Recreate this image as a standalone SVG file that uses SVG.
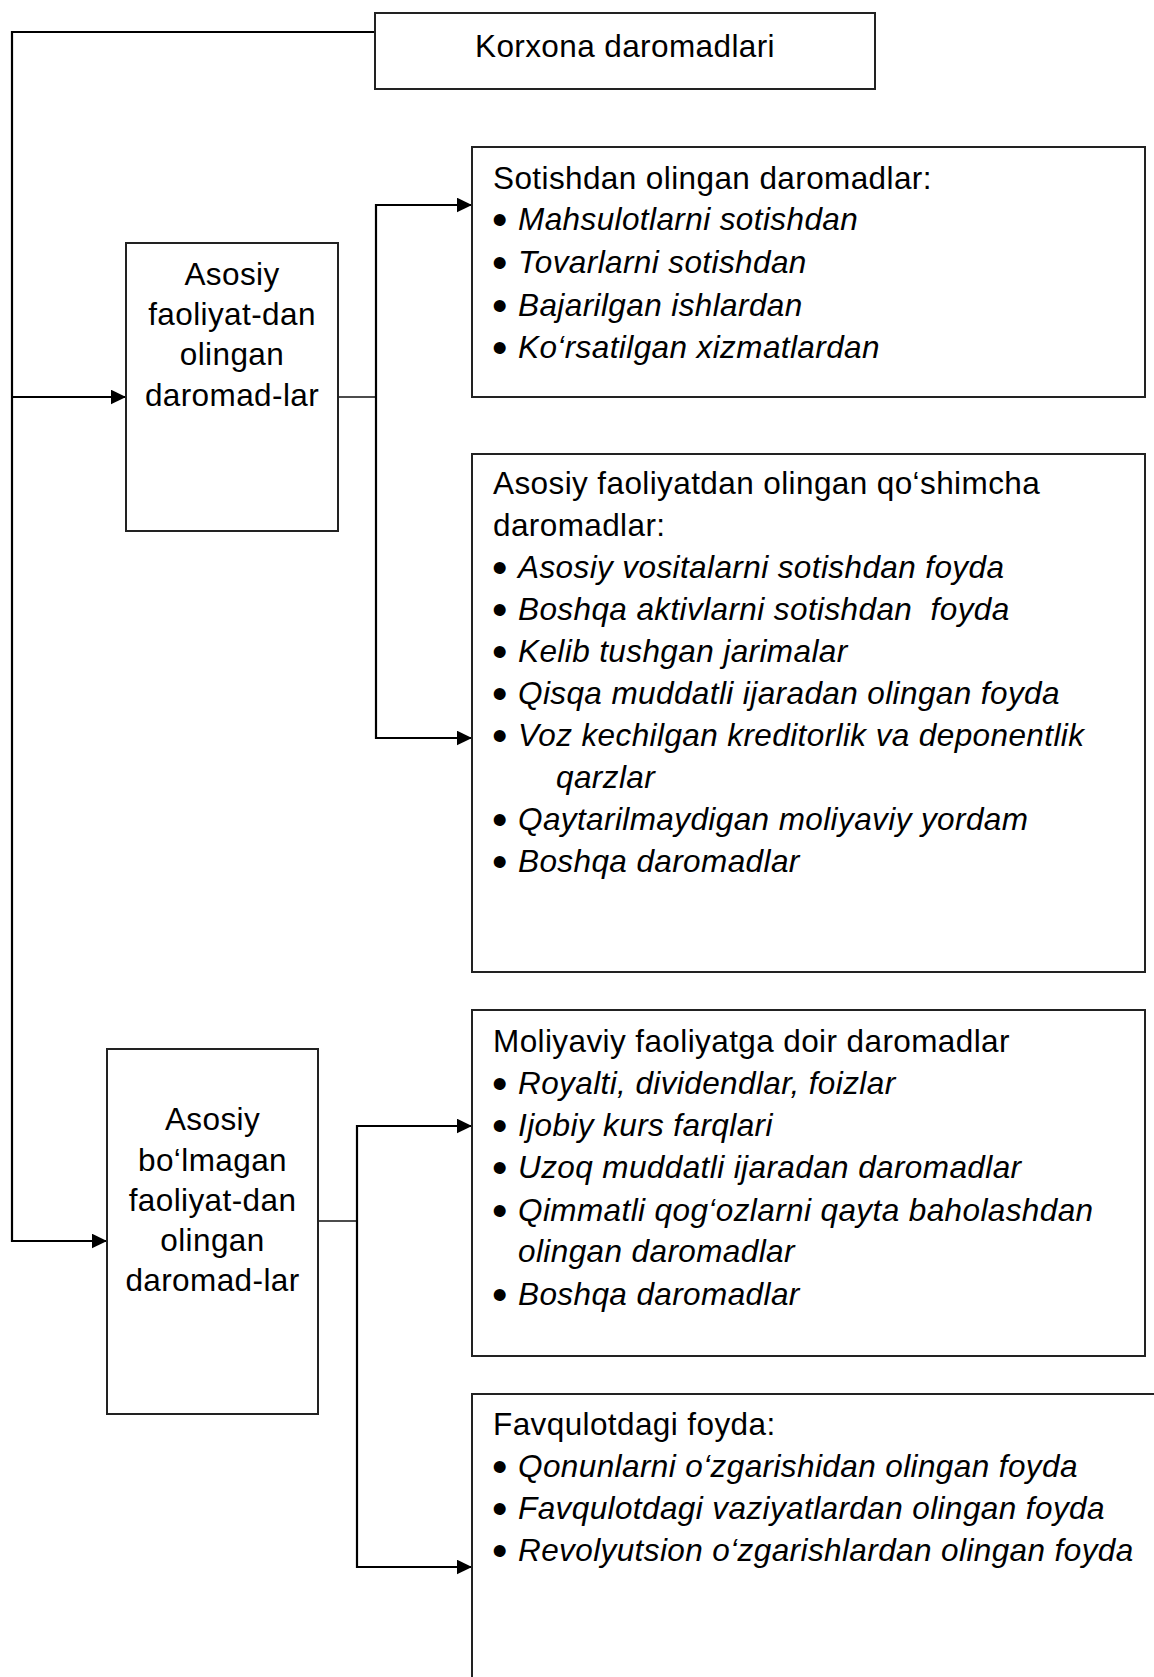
<svg xmlns="http://www.w3.org/2000/svg" width="1154" height="1677" viewBox="0 0 1154 1677">
  <style>
    .box { fill: #fff; stroke: #222; stroke-width: 2; }
    .ln { fill: none; stroke: #000; stroke-width: 2.2; }
    .stub { fill: none; stroke: #111; stroke-width: 1.5; }
    text { font-family: "Liberation Sans", Arial, sans-serif; font-size: 31.5px; letter-spacing: 0.4px; fill: #000; }
    .c { text-anchor: middle; }
    .i { font-style: italic; }
    .b { font-size: 44px; font-style: normal; }
  </style>
  <defs>
    <marker id="arrow" markerUnits="userSpaceOnUse" markerWidth="16" markerHeight="16" refX="15" refY="7.3" orient="auto">
      <path d="M0,0 L15,7.3 L0,14.6 Z" fill="#000"/>
    </marker>
  </defs>

  <rect width="1154" height="1677" fill="#fff"/>

  <!-- connectors -->
  <g id="connectors">
    <path class="ln" d="M375,32 H12 V1241 H107" marker-end="url(#arrow)"/>
    <path class="ln" d="M12,397 H126" marker-end="url(#arrow)"/>
    <path class="stub" d="M338,397 H376"/>
    <path class="ln" d="M376,397 V205 H472" marker-end="url(#arrow)"/>
    <path class="ln" d="M376,397 V738 H472" marker-end="url(#arrow)"/>
    <path class="stub" d="M318,1221 H357"/>
    <path class="ln" d="M357,1221 V1126 H472" marker-end="url(#arrow)"/>
    <path class="ln" d="M357,1221 V1567 H472" marker-end="url(#arrow)"/>
  </g>

  <!-- root: enterprise income -->
  <g id="node-korxona">
    <rect class="box" x="375" y="13" width="500" height="76"/>
    <text class="c" x="625" y="57">Korxona daromadlari</text>
  </g>

  <!-- main activity income -->
  <g id="node-asosiy">
    <rect class="box" x="126" y="243" width="212" height="288"/>
    <text class="c" x="232" y="285">Asosiy</text>
    <text class="c" x="232" y="325">faoliyat-dan</text>
    <text class="c" x="232" y="365">olingan</text>
    <text class="c" x="232" y="406">daromad-lar</text>
  </g>

  <!-- non-main activity income -->
  <g id="node-asosiy-bolmagan">
    <rect class="box" x="107" y="1049" width="211" height="365"/>
    <text class="c" x="212.5" y="1130">Asosiy</text>
    <text class="c" x="212.5" y="1171">bo‘lmagan</text>
    <text class="c" x="212.5" y="1211">faoliyat-dan</text>
    <text class="c" x="212.5" y="1251">olingan</text>
    <text class="c" x="212.5" y="1291">daromad-lar</text>
  </g>

  <!-- sales income -->
  <g id="node-sotish">
    <rect class="box" x="472" y="147" width="673" height="250"/>
    <text x="493" y="189">Sotishdan olingan daromadlar:</text>
    <text x="492" y="230"><tspan class="b" dy="5">•</tspan><tspan class="i" x="518" dy="-5">Mahsulotlarni sotishdan</tspan></text>
    <text x="492" y="273"><tspan class="b" dy="5">•</tspan><tspan class="i" x="518" dy="-5">Tovarlarni sotishdan</tspan></text>
    <text x="492" y="316"><tspan class="b" dy="5">•</tspan><tspan class="i" x="518" dy="-5">Bajarilgan ishlardan</tspan></text>
    <text x="492" y="358"><tspan class="b" dy="5">•</tspan><tspan class="i" x="518" dy="-5">Ko‘rsatilgan xizmatlardan</tspan></text>
  </g>

  <!-- additional income from main activity -->
  <g id="node-qoshimcha">
    <rect class="box" x="472" y="454" width="673" height="518"/>
    <text x="493" y="494">Asosiy faoliyatdan olingan qo‘shimcha</text>
    <text x="493" y="536">daromadlar:</text>
    <text x="492" y="578"><tspan class="b" dy="5">•</tspan><tspan class="i" x="518" dy="-5">Asosiy vositalarni sotishdan foyda</tspan></text>
    <text x="492" y="620" xml:space="preserve"><tspan class="b" dy="5">•</tspan><tspan class="i" x="518" dy="-5">Boshqa aktivlarni sotishdan  foyda</tspan></text>
    <text x="492" y="662"><tspan class="b" dy="5">•</tspan><tspan class="i" x="518" dy="-5">Kelib tushgan jarimalar</tspan></text>
    <text x="492" y="704"><tspan class="b" dy="5">•</tspan><tspan class="i" x="518" dy="-5">Qisqa muddatli ijaradan olingan foyda</tspan></text>
    <text x="492" y="746"><tspan class="b" dy="5">•</tspan><tspan class="i" x="518" dy="-5">Voz kechilgan kreditorlik va deponentlik</tspan></text>
    <text class="i" x="556" y="788">qarzlar</text>
    <text x="492" y="830"><tspan class="b" dy="5">•</tspan><tspan class="i" x="518" dy="-5">Qaytarilmaydigan moliyaviy yordam</tspan></text>
    <text x="492" y="872"><tspan class="b" dy="5">•</tspan><tspan class="i" x="518" dy="-5">Boshqa daromadlar</tspan></text>
  </g>

  <!-- financial activity income -->
  <g id="node-moliyaviy">
    <rect class="box" x="472" y="1010" width="673" height="346"/>
    <text x="493" y="1052">Moliyaviy faoliyatga doir daromadlar</text>
    <text x="492" y="1094"><tspan class="b" dy="5">•</tspan><tspan class="i" x="518" dy="-5">Royalti, dividendlar, foizlar</tspan></text>
    <text x="492" y="1136"><tspan class="b" dy="5">•</tspan><tspan class="i" x="518" dy="-5">Ijobiy kurs farqlari</tspan></text>
    <text x="492" y="1178"><tspan class="b" dy="5">•</tspan><tspan class="i" x="518" dy="-5">Uzoq muddatli ijaradan daromadlar</tspan></text>
    <text x="492" y="1221"><tspan class="b" dy="5">•</tspan><tspan class="i" x="518" dy="-5">Qimmatli qog‘ozlarni qayta baholashdan</tspan></text>
    <text class="i" x="518" y="1262">olingan daromadlar</text>
    <text x="492" y="1305"><tspan class="b" dy="5">•</tspan><tspan class="i" x="518" dy="-5">Boshqa daromadlar</tspan></text>
  </g>

  <!-- extraordinary gains (box runs past the page edge) -->
  <g id="node-favqulotdagi">
    <path class="box" d="M1155,1394 H472 V1678"/>
    <text x="493" y="1435">Favqulotdagi foyda:</text>
    <text x="492" y="1477"><tspan class="b" dy="5">•</tspan><tspan class="i" x="518" dy="-5">Qonunlarni o‘zgarishidan olingan foyda</tspan></text>
    <text x="492" y="1519"><tspan class="b" dy="5">•</tspan><tspan class="i" x="518" dy="-5">Favqulotdagi vaziyatlardan olingan foyda</tspan></text>
    <text x="492" y="1561"><tspan class="b" dy="5">•</tspan><tspan class="i" x="518" dy="-5">Revolyutsion o‘zgarishlardan olingan foyda</tspan></text>
  </g>
</svg>
